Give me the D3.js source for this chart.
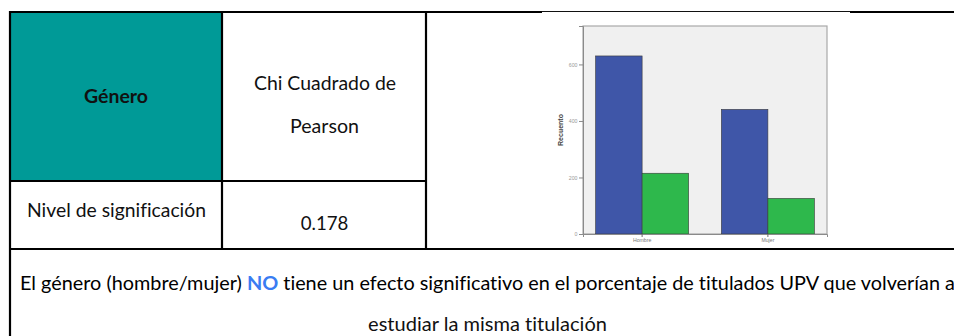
<!DOCTYPE html>
<html>
<head>
<meta charset="utf-8">
<script src="https://cdn.jsdelivr.net/npm/d3@7"></script>
<style>
  html, body { margin: 0; padding: 0; background: #fff; }
  svg { display: block; }
  text { font-variant-ligatures: none; }
</style>
</head>
<body>
<svg id="page" width="954" height="336"></svg>
<script>
// Counts per gender for the two answer groups
const categories = ["Hombre", "Mujer"];
const seriesNames = ["Sí", "No"];
const seriesSi = [630, 441];
const seriesNo = [215, 126];
const yTickValues = [0, 200, 400, 600];
const yAxisTitle = "Recuento";

// Table text
const headerLabel = "Género";
const testLines = ["Chi Cuadrado de", "Pearson"];
const levelLabel = "Nivel de significación";
const pValue = "0.178";
const conclusionParts = [
  { t: "El género (hombre/mujer) ", bold: false, color: "#000" },
  { t: "NO", bold: true, color: "#3a7cf2" },
  { t: " tiene un efecto significativo en el porcentaje de titulados UPV que volverían a", bold: false, color: "#000" }
];
const conclusionLine2 = "estudiar la misma titulación";

const svg = d3.select("#page");
const FONT = "Lato, 'Open Sans', sans-serif";

// Size a text element so it spans the given width
function fitText(sel, width) {
  let fs = 16;
  sel.attr("font-size", fs);
  for (let i = 0; i < 4; i++) {
    const w = sel.node().getComputedTextLength();
    fs = fs * width / w;
    sel.attr("font-size", fs);
  }
  return sel;
}

// ---- Table cells ----
svg.append("rect").attr("x", 10).attr("y", 12).attr("width", 212).attr("height", 169)
  .attr("fill", "#009a97");

// table frame lines
const lines = [
  [9, 12, 954, 12], [10, 11, 10, 336], [222, 11, 222, 250], [426, 11, 426, 250],
  [9, 181, 426, 181], [9, 249, 954, 249]
];
svg.selectAll("line.grid").data(lines).join("line")
  .attr("x1", d => d[0]).attr("y1", d => d[1]).attr("x2", d => d[2]).attr("y2", d => d[3])
  .attr("stroke", "#000").attr("stroke-width", 2.2);

// ---- Chart picture area (white, laid over the table border) ----
svg.append("rect").attr("x", 542).attr("y", 11).attr("width", 308).attr("height", 237)
  .attr("fill", "#fff");
svg.append("line").attr("x1", 542).attr("x2", 850).attr("y1", 11.5).attr("y2", 11.5)
  .attr("stroke", "#111").attr("stroke-width", 1);

// ---- Bar chart ----
const plot = { left: 583, right: 827, top: 26, bottom: 234 };
const y = d3.scaleLinear().domain([0, 736]).range([plot.bottom, plot.top]);
const x0 = d3.scaleBand().domain(categories).range([plot.left, plot.right])
  .paddingInner(0.26).paddingOuter(0.1);
const x1 = d3.scaleBand().domain(seriesNames).range([0, x0.bandwidth()]);
const colors = d3.scaleOrdinal().domain(seriesNames).range(["#3f56a8", "#2eb84c"]);

const chart = svg.append("g");
chart.append("rect")
  .attr("x", plot.left).attr("y", plot.top)
  .attr("width", plot.right - plot.left).attr("height", plot.bottom - plot.top)
  .attr("fill", "#f0f0f0").attr("stroke", "#a9a9a9").attr("stroke-width", 1.2);

const rows = categories.map((c, i) => ({ cat: c, values: [
  { s: seriesNames[0], v: seriesSi[i] }, { s: seriesNames[1], v: seriesNo[i] }
] }));

chart.selectAll("g.cat").data(rows).join("g")
  .attr("transform", d => `translate(${x0(d.cat)},0)`)
  .selectAll("rect").data(d => d.values).join("rect")
  .attr("x", d => x1(d.s)).attr("width", x1.bandwidth())
  .attr("y", d => y(d.v)).attr("height", d => y(0) - y(d.v))
  .attr("fill", d => colors(d.s)).attr("stroke", "#3a3a3a").attr("stroke-width", 0.6);

// y axis
const yAxis = d3.axisLeft(y).tickValues(yTickValues).tickSize(4).tickPadding(1.5);
const gy = chart.append("g").attr("transform", `translate(${plot.left},0)`).call(yAxis);
gy.select(".domain").attr("stroke", "#8a8a8a");
gy.selectAll(".tick line").attr("stroke", "#8a8a8a");
gy.selectAll(".tick text").attr("font-size", 5.2).attr("fill", "#999")
  .attr("font-family", "Arial, 'Liberation Sans', sans-serif");

// x axis
const xAxis = d3.axisBottom(x0).tickSize(3).tickPadding(1.5);
const gx = chart.append("g").attr("transform", `translate(0,${plot.bottom})`).call(xAxis);
gx.select(".domain").attr("stroke", "#8a8a8a");
gx.selectAll(".tick line").attr("stroke", "#6a6a6a");
gx.selectAll(".tick text").attr("font-size", 5.2).attr("fill", "#777")
  .attr("font-family", "Arial, 'Liberation Sans', sans-serif");

chart.append("text")
  .attr("transform", `translate(563,${(plot.top + plot.bottom) / 2}) rotate(-90)`)
  .attr("text-anchor", "middle")
  .attr("font-size", 7).attr("font-weight", "bold").attr("fill", "#444")
  .attr("font-family", "Arial, 'Liberation Sans', sans-serif")
  .text(yAxisTitle);

// ---- Table text ----
function cellText(str, cx, baseline, width, bold) {
  const t = svg.append("text").attr("x", cx).attr("y", baseline)
    .attr("text-anchor", "middle").attr("font-family", FONT)
    .attr("font-weight", bold ? "bold" : "normal").attr("fill", "#111").text(str);
  fitText(t, width);
  return t;
}
cellText(headerLabel, 116, 103, 64, true);
cellText(testLines[0], 325, 90, 142, false);
cellText(testLines[1], 324.5, 133, 69, false);
cellText(levelLabel, 116.5, 217, 179, false);
cellText(pValue, 324.5, 230, 47.6, false);

const l1 = svg.append("text").attr("x", 20).attr("y", 290)
  .attr("font-family", FONT).attr("fill", "#111");
l1.selectAll("tspan").data(conclusionParts).join("tspan")
  .attr("font-weight", d => d.bold ? "bold" : "normal")
  .attr("fill", d => d.color)
  .text(d => d.t);
fitText(l1, 935);

cellText(conclusionLine2, 487.5, 331, 239, false);
</script>
</body>
</html>
